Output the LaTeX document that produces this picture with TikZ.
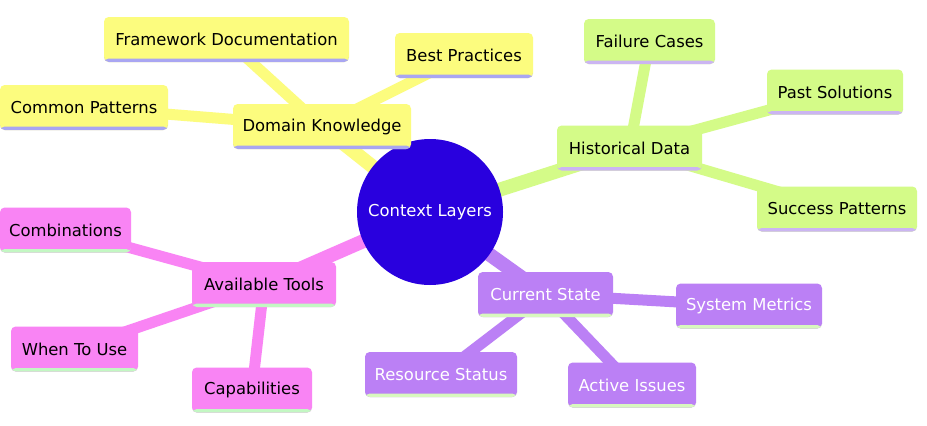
\documentclass[tikz,border=0pt]{standalone}
\usepackage{fontspec}
\setmainfont{DejaVu Sans}
\usetikzlibrary{backgrounds}
\definecolor{croot}{HTML}{2900DE}
\definecolor{cy}{HTML}{FCFC7E}
\definecolor{cyS}{HTML}{A9A6F2}
\definecolor{cg}{HTML}{D4FB88}
\definecolor{cgS}{HTML}{CBB5F2}
\definecolor{cp}{HTML}{F984F4}
\definecolor{cpS}{HTML}{C3F7C3}
\definecolor{cv}{HTML}{BB80F5}
\definecolor{cvS}{HTML}{D8F8BE}
\begin{document}
\begin{tikzpicture}[x=0.75pt,y=-0.75pt,
  box/.style={rectangle, rounded corners=3.5pt, minimum height=33.75pt, inner sep=0pt,
    font=\fontsize{12.3}{14}\selectfont, anchor=center},
  bw/.style={minimum width=#1*0.75pt},
  secbox/.style n args={3}{box, fill=#1, text=#3,
    path picture={\fill[#2] ([yshift=2.6pt]path picture bounding box.south west) rectangle (path picture bounding box.south east);}},
  ybox/.style={secbox={cy}{cyS}{black}},
  gbox/.style={secbox={cg}{cgS}{black}},
  pbox/.style={secbox={cp}{cpS}{black}},
  vbox/.style={secbox={cv}{cvS}{white}},
  rootedge/.style={line width=10.5pt},
  childedge/.style={line width=8.25pt}]
\useasboundingbox (0,0) rectangle (927,425);
% root
\node[circle, fill=croot, minimum size=109.5pt, inner sep=0pt, text=white,
  font=\fontsize{12.3}{14}\selectfont] (root) at (430,212) {Context Layers};
% Domain Knowledge
\node[ybox, bw=178] (dk) at (322,126.5) {Domain Knowledge};
\node[ybox, bw=245] (fd) at (226.5,39.5) {Framework Documentation};
\node[ybox, bw=138] (bp) at (464,55.5) {Best Practices};
\node[ybox, bw=168] (cp) at (84,107.5) {Common Patterns};
% Historical Data
\node[gbox, bw=145] (hd) at (629.5,148) {Historical Data};
\node[gbox, bw=131] (fc) at (649.5,41.5) {Failure Cases};
\node[gbox, bw=136] (ps) at (835,92) {Past Solutions};
\node[gbox, bw=160] (sp) at (837,209) {Success Patterns};
% Available Tools
\node[pbox, bw=144] (at) at (264,284.5) {Available Tools};
\node[pbox, bw=131] (cb) at (65.5,230) {Combinations};
\node[pbox, bw=127] (wu) at (74.5,349) {When To Use};
\node[pbox, bw=120] (ca) at (252,390) {Capabilities};
% Current State
\node[vbox, bw=135] (cs) at (545.5,294.5) {Current State};
\node[vbox, bw=146] (sm) at (749,306) {System Metrics};
\node[vbox, bw=152] (rs) at (441,374.5) {Resource Status};
\node[vbox, bw=128] (ai) at (632,385) {Active Issues};
\begin{scope}[on background layer]
\fill[white] (0,0) rectangle (927,425);
\draw[rootedge, cy] (root.center) -- (dk.center);
\draw[rootedge, cg] (root.center) -- (hd.center);
\draw[rootedge, cp] (root.center) -- (at.center);
\draw[rootedge, cv] (root.center) -- (cs.center);
\draw[childedge, cy] (dk.center) -- (fd.center);
\draw[childedge, cy] (dk.center) -- (bp.center);
\draw[childedge, cy] (dk.center) -- (cp.center);
\draw[childedge, cg] (hd.center) -- (fc.center);
\draw[childedge, cg] (hd.center) -- (ps.center);
\draw[childedge, cg] (hd.center) -- (sp.center);
\draw[childedge, cp] (at.center) -- (cb.center);
\draw[childedge, cp] (at.center) -- (wu.center);
\draw[childedge, cp] (at.center) -- (ca.center);
\draw[childedge, cv] (cs.center) -- (sm.center);
\draw[childedge, cv] (cs.center) -- (rs.center);
\draw[childedge, cv] (cs.center) -- (ai.center);
\end{scope}
\end{tikzpicture}
\end{document}
